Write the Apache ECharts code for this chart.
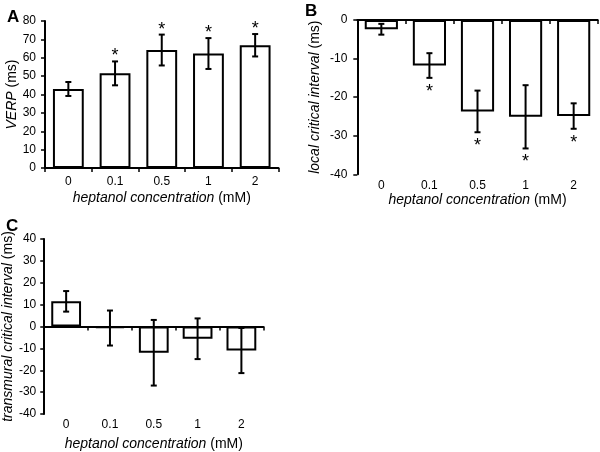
<!DOCTYPE html>
<html>
<head>
<meta charset="utf-8">
<script src="https://cdn.jsdelivr.net/npm/echarts@6/dist/echarts.min.js"></script>
<style>
html,body{margin:0;padding:0;background:#fff;}
#chart{width:600px;height:452px;}
</style>
</head>
<body>
<div id="chart"></div>
<script>
// ---- data ----
const categories = ['0', '0.1', '0.5', '1', '2'];

const verpMean = [43, 51.5, 64.2, 62.3, 66.8];
const verpErr  = [3.8, 6.5, 8.4, 8.4, 6.1];
const verpSig  = [false, true, true, true, true];

const localMean = [-2.4, -11.8, -23.7, -25.1, -24.9];
const localErr  = [1.4, 3.2, 5.4, 8.2, 3.3];
const localSig  = [false, true, true, true, true];

const transMean = [11.5, -0.7, -12, -5.6, -11];
const transErr  = [4.7, 8, 15, 9.3, 10.3];
const transSig  = [false, false, false, false, false];

const yTicksA = { min: 0, max: 80, interval: 10 };
const yTicksB = { min: -40, max: 0, interval: 10 };
const yTicksC = { min: -40, max: 40, interval: 10 };

// ---- helpers ----
const FONT = '"Liberation Sans", Arial, sans-serif';
const black = '#000';

function errData(mean, err, sig) {
  return mean.map((m, i) => [i, m, err[i], sig[i] ? 1 : 0]);
}

function errRender(params, api) {
  const i = api.value(0), m = api.value(1), e = api.value(2), s = api.value(3);
  const top = api.coord([i, m + e]);
  const bot = api.coord([i, m - e]);
  const cap = 3;
  const children = [
    { type: 'line', shape: { x1: top[0], y1: top[1], x2: bot[0], y2: bot[1] }, style: { stroke: black, lineWidth: 2 } },
    { type: 'line', shape: { x1: top[0] - cap, y1: top[1], x2: top[0] + cap, y2: top[1] }, style: { stroke: black, lineWidth: 2 } },
    { type: 'line', shape: { x1: bot[0] - cap, y1: bot[1], x2: bot[0] + cap, y2: bot[1] }, style: { stroke: black, lineWidth: 2 } }
  ];
  if (s) {
    const y = m >= 0 ? top[1] - 5 : bot[1] + 14;
    children.push({
      type: 'text',
      style: { text: '*', x: top[0], y: y, align: 'center', verticalAlign: 'middle',
               font: '18px ' + FONT, fill: black }
    });
  }
  return { type: 'group', children };
}

const axisLineStyle = { color: black, width: 2 };
const labelStyle = { color: black, fontSize: 12, fontFamily: FONT };

function yAxisDef(grid, ticks, nameRich, gap, margin) {
  return {
    type: 'value', gridIndex: grid, min: ticks.min, max: ticks.max, interval: ticks.interval,
    axisLine: { show: true, lineStyle: axisLineStyle },
    axisTick: { show: true, length: 4, lineStyle: { color: black, width: 1.5 } },
    axisLabel: Object.assign({ margin: margin }, labelStyle),
    splitLine: { show: false },
    name: nameRich, nameLocation: 'middle', nameGap: gap, nameRotate: 90,
    nameTextStyle: {
      color: black, fontSize: 14, fontFamily: FONT,
      rich: {
        i: { fontStyle: 'italic', fontSize: 14, fontFamily: FONT, color: black },
        n: { fontSize: 14, fontFamily: FONT, color: black }
      }
    }
  };
}

const xName = '{i|heptanol concentration} {n|(mM)}';
const xNameStyle = {
  color: black, fontSize: 14, fontFamily: FONT,
  rich: {
    i: { fontStyle: 'italic', fontSize: 14, fontFamily: FONT, color: black },
    n: { fontSize: 14, fontFamily: FONT, color: black }
  }
};

function lineAxis(grid) {
  return {
    type: 'category', gridIndex: grid, data: categories, position: 'top',
    axisLine: { show: true, onZero: true, lineStyle: axisLineStyle },
    axisTick: { show: true, inside: true, length: 4, lineStyle: { color: black, width: 1.5 } },
    axisLabel: { show: false }, splitLine: { show: false }
  };
}
function labelAxis(grid, gap) {
  return {
    type: 'category', gridIndex: grid, data: categories, position: 'bottom',
    axisLine: { show: false, onZero: false }, axisTick: { show: false },
    axisLabel: Object.assign({ margin: 5 }, labelStyle), splitLine: { show: false },
    name: xName, nameLocation: 'middle', nameGap: gap, nameTextStyle: xNameStyle
  };
}

const barStyle = { color: '#fff', borderColor: black, borderWidth: 2 };

const option = {
  animation: false,
  backgroundColor: '#fff',
  title: [
    { text: 'A', left: 2, top: 4, textStyle: { fontSize: 17, fontWeight: 'bold', fontFamily: FONT, color: black } },
    { text: 'B', left: 300, top: -2, textStyle: { fontSize: 17, fontWeight: 'bold', fontFamily: FONT, color: black } },
    { text: 'C', left: 1, top: 213, textStyle: { fontSize: 17, fontWeight: 'bold', fontFamily: FONT, color: black } }
  ],
  grid: [
    { left: 45, top: 21, width: 233.5, height: 147 },
    { left: 357.3, top: 20, width: 240.4, height: 154.3 },
    { left: 43.3, top: 239, width: 220, height: 175 }
  ],
  xAxis: [
    {
      type: 'category', gridIndex: 0, data: categories, position: 'bottom',
      axisLine: { show: true, lineStyle: axisLineStyle },
      axisTick: { show: true, length: 4, lineStyle: { color: black, width: 1.5 } },
      axisLabel: Object.assign({ margin: 8 }, labelStyle), splitLine: { show: false },
      name: xName, nameLocation: 'middle', nameGap: 23, nameTextStyle: xNameStyle
    },
    lineAxis(1),
    labelAxis(1, 19),
    lineAxis(2),
    labelAxis(2, 23)
  ],
  yAxis: [
    yAxisDef(0, yTicksA, '{i|VERP} {n|(ms)}', 26, 9),
    yAxisDef(1, yTicksB, '{i|local critical interval} {n|(ms)}', 35, 10),
    yAxisDef(2, yTicksC, '{i|transmural critical interval} {n|(ms)}', 24, 8)
  ],
  series: [
    { type: 'bar', xAxisIndex: 0, yAxisIndex: 0, data: verpMean, barWidth: '66%', itemStyle: barStyle },
    { type: 'custom', xAxisIndex: 0, yAxisIndex: 0, data: errData(verpMean, verpErr, verpSig),
      encode: { x: 0, y: 1 }, renderItem: errRender, z: 5 },
    { type: 'bar', xAxisIndex: 1, yAxisIndex: 1, data: localMean, barWidth: '69%', itemStyle: barStyle },
    { type: 'custom', xAxisIndex: 1, yAxisIndex: 1, data: errData(localMean, localErr, localSig),
      encode: { x: 0, y: 1 }, renderItem: errRender, z: 5 },
    { type: 'bar', xAxisIndex: 3, yAxisIndex: 2, data: transMean, barWidth: '68%', itemStyle: barStyle },
    { type: 'custom', xAxisIndex: 3, yAxisIndex: 2, data: errData(transMean, transErr, transSig),
      encode: { x: 0, y: 1 }, renderItem: errRender, z: 5 }
  ]
};

const chart = echarts.init(document.getElementById('chart'), null, { renderer: 'canvas' });
chart.setOption(option);
</script>
</body>
</html>
